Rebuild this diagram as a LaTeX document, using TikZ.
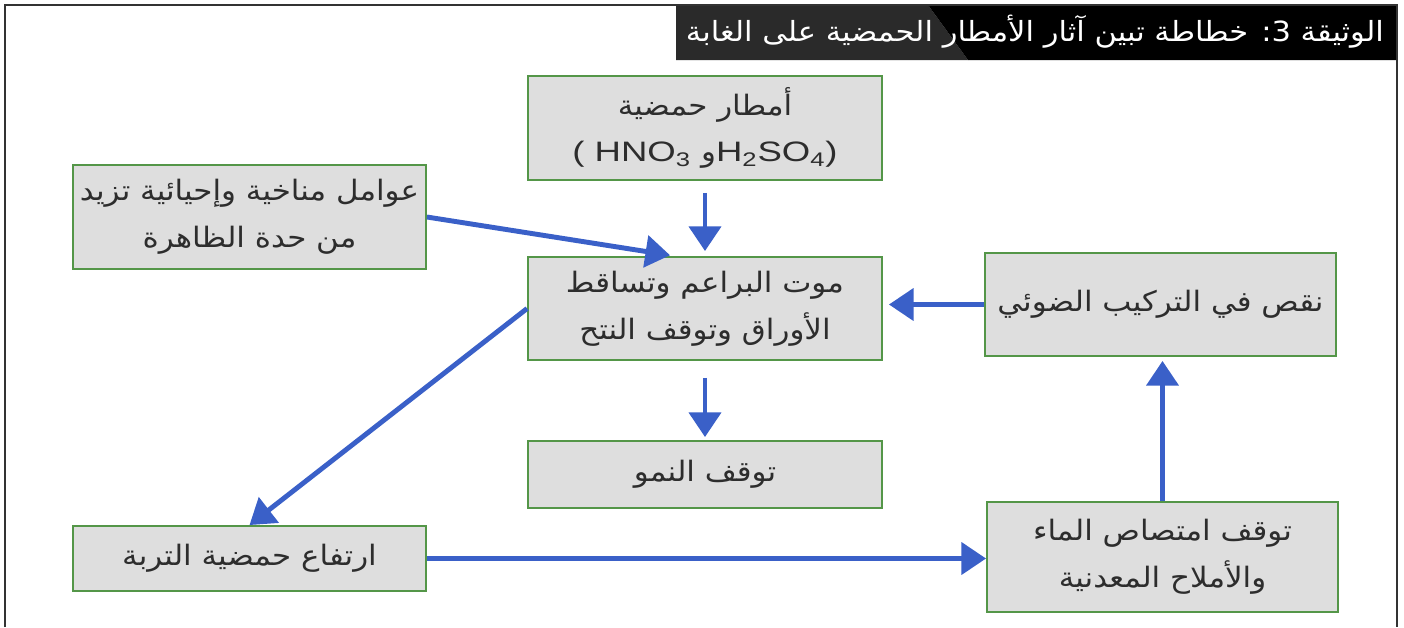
\documentclass[tikz,border=0pt]{standalone}
\usepackage{fontspec}
\usetikzlibrary{arrows.meta}
\setmainfont{Liberation Sans}
\newfontfamily\arabicfont[Script=Arabic,FakeStretch=1.1]{DejaVu Sans}
\newfontfamily\latinfont[FakeStretch=1.3]{Liberation Sans}
\TeXXeTstate=1
\definecolor{boxgray}{RGB}{222,222,222}
\definecolor{boxgreen}{RGB}{84,150,72}
\definecolor{arrowblue}{RGB}{58,96,200}
\definecolor{txtgray}{RGB}{45,45,45}
\definecolor{titledark}{RGB}{42,42,42}
\newcommand{\arline}[1]{\beginR#1\endR}
\newcommand{\latin}[1]{{\latinfont#1}}

\begin{document}
\begin{tikzpicture}[x=0.02cm, y=-0.02cm,
	box/.style={draw=boxgreen, fill=boxgray, line width=1.1pt, text=txtgray, align=center,
		inner sep=0pt, font=\arabicfont\fontsize{16}{26.5}\selectfont},
	link/.style={arrowblue, line width=2.8pt, -{Triangle[length=14pt,width=18pt]}}]
	\useasboundingbox (0,0) rectangle (1404,627);
	\fill[white] (0,0) rectangle (1404,627);
	\fill[titledark] (676,5) -- (928,5) -- (968,60) -- (676,60) -- cycle;
	\fill[black] (928,5) -- (1397,5) -- (1397,60) -- (968,60) -- cycle;
	\draw[black!80, line width=1.4pt] (5,627) -- (5,5) -- (1397,5) -- (1397,627);
	\node[anchor=east, text=white, font=\arabicfont\fontsize{15.8}{18}\selectfont] (title) at (1390,32)
		{\arline{الوثيقة 3\kern0pt: خطاطة تبين آثار الأمطار الحمضية على الغابة}};

	\node[box, minimum width=7.08cm, minimum height=2.08cm] (rain) at (705,128)
		{\arline{أمطار حمضية}\\\latin{( HNO\textsubscript{3} }و\latin{H\textsubscript{2}SO\textsubscript{4})}};
	\node[box, minimum width=7.06cm, minimum height=2.08cm] (climate) at (249.5,217)
		{\arline{عوامل مناخية وإحيائية تزيد}\\\arline{من حدة الظاهرة}};
	\node[box, minimum width=7.08cm, minimum height=2.06cm] (death) at (705,308.5)
		{\arline{موت البراعم وتساقط}\\\arline{الأوراق وتوقف النتح}};
	\node[box, minimum width=7.02cm, minimum height=2.06cm] (photo) at (1160.5,304.5)
		{\arline{نقص في التركيب الضوئي}};
	\node[box, minimum width=7.08cm, minimum height=1.34cm] (growth) at (705,474.5)
		{\arline{توقف النمو}};
	\node[box, minimum width=7.06cm, minimum height=1.3cm] (soil) at (249.5,558.5)
		{\arline{ارتفاع حمضية التربة}};
	\node[box, minimum width=7.02cm, minimum height=2.2cm] (absorb) at (1162.5,557)
		{\arline{توقف امتصاص الماء}\\\arline{والأملاح المعدنية}};

	\draw[link, shorten <=0.24cm, shorten >=0.1cm] (rain.south) -- (death.north);
	\draw[link, shorten >=0.1cm] (climate.east) -- ([xshift=-0.6cm]death.north);
	\draw[link, shorten >=0.12cm] (photo.west) -- (photo.west -| death.east);
	\draw[link, shorten <=0.34cm, shorten >=0.06cm] (death.south) -- (growth.north);
	\draw[link] (death.west) -- (soil.north);
	\draw[link] (soil.east) -- (soil.east -| absorb.west);
	\draw[link, shorten >=0.08cm] (absorb.north) -- (absorb.north |- photo.south);
\end{tikzpicture}
\end{document}
